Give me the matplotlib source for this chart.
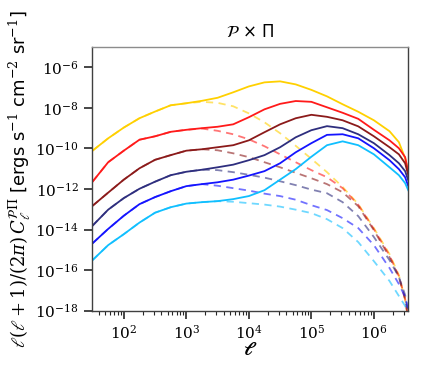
import numpy as np
import matplotlib
matplotlib.use("Agg")
import matplotlib.pyplot as plt
from matplotlib.ticker import LogLocator, NullLocator

plt.rcParams['mathtext.fontset'] = 'dejavuserif'

# multipole grid (log10 ell)
log_ell = [1.5, 1.75, 2.0, 2.25, 2.5, 2.75, 3.0, 3.25, 3.5, 3.75, 4.0, 4.25,
           4.5, 4.75, 5.0, 5.25, 5.5, 5.75, 6.0, 6.25, 6.4, 6.5, 6.55]

colors = ['#FFD000', '#FF1A1A', '#8B1A1A', '#2E2E7E', '#1414FF', '#10BFFF']

# total spectra (solid), log10 values
gold_total = [-10.11, -9.50, -8.97, -8.51, -8.18, -7.87, -7.77, -7.65, -7.50, -7.23, -6.94, -6.74,
              -6.69, -6.84, -7.11, -7.43, -7.82, -8.19, -8.61, -9.15, -9.69, -10.48, -11.17]
red_total = [-11.64, -10.68, -10.11, -9.57, -9.40, -9.18, -9.08, -9.00, -8.93, -8.81, -8.46, -8.07,
             -7.80, -7.66, -7.70, -7.97, -8.24, -8.54, -9.08, -9.60, -9.99, -10.43, -11.17]
darkred_total = [-12.83, -12.18, -11.54, -10.98, -10.56, -10.33, -10.11, -10.04, -9.94, -9.84, -9.60, -9.20,
                 -8.81, -8.51, -8.34, -8.44, -8.61, -8.91, -9.40, -9.94, -10.29, -10.73, -11.32]
navy_total = [-13.81, -13.02, -12.45, -11.99, -11.64, -11.32, -11.15, -11.05, -10.93, -10.80, -10.58, -10.33,
              -9.94, -9.45, -9.10, -8.90, -9.00, -9.30, -9.74, -10.33, -10.73, -11.12, -11.57]
blue_total = [-14.68, -13.97, -13.32, -12.75, -12.40, -12.11, -11.86, -11.76, -11.67, -11.54, -11.34, -11.12,
              -10.73, -10.19, -9.74, -9.33, -9.30, -9.50, -9.99, -10.58, -11.02, -11.42, -11.86]
cyan_total = [-15.51, -14.77, -14.23, -13.66, -13.17, -12.90, -12.72, -12.65, -12.60, -12.50, -12.35, -12.06,
              -11.54, -11.02, -10.41, -9.84, -9.65, -9.84, -10.29, -10.93, -11.32, -11.71, -12.06]

# one-term spectra (dashed), log10 values
gold_part = [-10.11, -9.50, -8.97, -8.51, -8.18, -7.87, -7.77, -7.70, -7.75, -7.92, -8.27, -8.71,
             -9.25, -9.87, -10.51, -11.17, -11.90, -12.75, -13.93, -15.21, -16.25, -17.48, -18.5]
red_part = [-11.64, -10.68, -10.11, -9.57, -9.40, -9.18, -9.08, -9.02, -9.13, -9.30, -9.55, -9.89,
            -10.29, -10.68, -11.07, -11.42, -11.96, -12.78, -13.98, -15.28, -16.30, -17.42, -18.4]
darkred_part = [-12.83, -12.18, -11.54, -10.98, -10.56, -10.33, -10.11, -10.04, -10.09, -10.24, -10.43, -10.68,
                -10.93, -11.20, -11.47, -11.76, -12.16, -12.85, -14.03, -15.36, -16.35, -17.45, -18.4]
navy_part = [-13.81, -13.02, -12.45, -11.99, -11.64, -11.32, -11.15, -11.05, -11.07, -11.17, -11.30, -11.44,
             -11.62, -11.81, -12.03, -12.21, -12.65, -13.34, -14.37, -15.51, -16.34, -17.23, -18.07]
blue_part = [-14.68, -13.97, -13.32, -12.75, -12.40, -12.11, -11.86, -11.76, -11.84, -11.96, -12.08, -12.23,
             -12.35, -12.53, -12.80, -13.04, -13.44, -13.93, -14.77, -15.90, -16.69, -17.33, -17.97]
cyan_part = [-15.51, -14.77, -14.23, -13.66, -13.17, -12.90, -12.72, -12.65, -12.60, -12.63, -12.70, -12.77,
             -12.87, -13.02, -13.19, -13.49, -13.93, -14.62, -15.56, -16.54, -17.28, -17.77, -18.22]

totals = [gold_total, red_total, darkred_total, navy_total, blue_total, cyan_total]
parts = [gold_part, red_part, darkred_part, navy_part, blue_part, cyan_part]

fig = plt.figure(figsize=(4.24, 3.68), dpi=100)
ax = fig.add_axes([0.217, 0.156, 0.745, 0.716])

ell = 10.0 ** np.array(log_ell)
for c, part in zip(colors, parts):
    ax.plot(ell, 10.0 ** np.array(part), color=c, lw=1.3, ls=(0, (4, 3)), alpha=0.6)
for c, tot in zip(colors, totals):
    ax.plot(ell, 10.0 ** np.array(tot), color=c, lw=1.3)

ax.set_xscale('log')
ax.set_yscale('log')
ax.set_xlim(31, 3.5e6)
ax.set_ylim(1e-18, 1e-5)
ax.yaxis.set_major_locator(LogLocator(base=100.0, numticks=20))
ax.yaxis.set_minor_locator(NullLocator())
ax.xaxis.set_major_locator(LogLocator(base=10.0, numticks=20))
ax.xaxis.set_minor_locator(LogLocator(base=10.0, subs=np.arange(2, 10), numticks=20))

ax.tick_params(axis='both', which='major', direction='out', length=6, width=1.2,
               labelsize=11, color='0.15', labelfontfamily='DejaVu Serif')
ax.tick_params(axis='both', which='minor', direction='out', length=3, width=0.8, color='0.15')

for side in ['left', 'bottom', 'right']:
    ax.spines[side].set_color('0.25')
    ax.spines[side].set_linewidth(1.0)
ax.spines['top'].set_color('0.55')
ax.spines['top'].set_linewidth(1.0)

ax.set_title(r'$\mathcal{P}$' + ' × Π', fontsize=12, pad=7)
ax.set_xlabel(r'$\boldsymbol{\ell}$', fontsize=14, labelpad=-1)
ax.set_ylabel(r'$\ell(\ell+1)/(2\pi)\,C_\ell^{\mathcal{P}\Pi}$ [ergs s$^{-1}$ cm$^{-2}$ sr$^{-1}$]',
              fontsize=13, labelpad=2)

fig.savefig('out.png', dpi=100)
